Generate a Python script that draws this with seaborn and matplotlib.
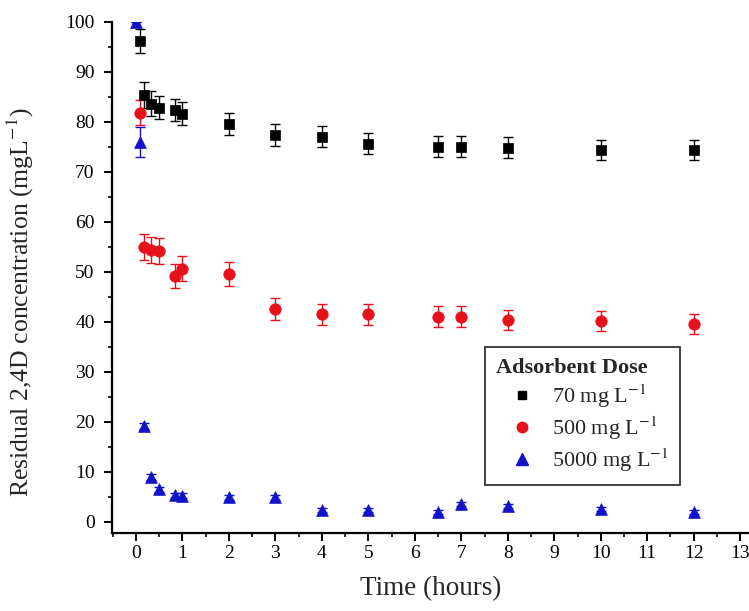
import numpy as np
import pandas as pd
import matplotlib
matplotlib.use("Agg")
import matplotlib.pyplot as plt
from matplotlib.ticker import MultipleLocator
from matplotlib.lines import Line2D
import seaborn as sns

# ---- data ----
t_70 = [0.083, 0.167, 0.333, 0.5, 0.833, 1, 2, 3, 4, 5, 6.5, 7, 8, 10, 12]
c_70 = [96.3, 85.4, 83.7, 82.9, 82.4, 81.7, 79.7, 77.4, 77.1, 75.7, 75.1, 75.1, 74.9, 74.4, 74.4]
e_70 = [2.4, 2.6, 2.4, 2.3, 2.3, 2.3, 2.2, 2.2, 2.1, 2.1, 2.1, 2.1, 2.1, 2.1, 2.1]

t_500 = [0.083, 0.167, 0.333, 0.5, 0.833, 1, 2, 3, 4, 5, 6.5, 7, 8, 10, 12]
c_500 = [81.9, 55.0, 54.5, 54.2, 49.2, 50.7, 49.7, 42.7, 41.6, 41.6, 41.1, 41.1, 40.4, 40.3, 39.7]
e_500 = [2.5, 2.6, 2.6, 2.6, 2.4, 2.5, 2.4, 2.2, 2.1, 2.1, 2.1, 2.1, 2.0, 2.0, 2.0]

t_5000 = [0, 0.083, 0.167, 0.333, 0.5, 0.833, 1, 2, 3, 4, 5, 6.5, 7, 8, 10, 12]
c_5000 = [100, 76.1, 19.3, 9.0, 6.6, 5.4, 5.3, 5.0, 5.0, 2.5, 2.4, 2.0, 3.7, 3.2, 2.6, 2.0]
e_5000 = [0, 3.0, 0.6, 0.6, 0.5, 0.5, 0.5, 0.5, 0.5, 0.4, 0.4, 0.4, 0.4, 0.4, 0.4, 0.4]

doses = ["70 mg L$^{-1}$", "500 mg L$^{-1}$", "5000 mg L$^{-1}$"]
colors = ["#000000", "#e8101a", "#1212c8"]
markers = ["s", "o", "^"]
sizes = [45, 68, 72]

frames = []
for d, t, c, e in zip(doses, [t_70, t_500, t_5000], [c_70, c_500, c_5000], [e_70, e_500, e_5000]):
    frames.append(pd.DataFrame({"Time": t, "Conc": c, "Err": e, "Dose": d}))
df = pd.concat(frames, ignore_index=True)

# ---- style ----
sns.set_style("ticks")
plt.rcParams["font.family"] = ["Liberation Serif", "DejaVu Serif"]
plt.rcParams["mathtext.fontset"] = "stix"

fig = plt.figure(figsize=(7.49, 6.11), dpi=100)
ax = fig.add_axes([112 / 749, (611 - 533) / 611, (749 - 112) / 749, (533 - 22) / 611])

for d, col, mk, sz in zip(doses, colors, markers, sizes):
    sub = df[df["Dose"] == d]
    ax.errorbar(sub["Time"], sub["Conc"], yerr=sub["Err"], fmt="none",
                ecolor=col, elinewidth=1.0, capsize=3.8, capthick=1.0, zorder=2)
    sns.scatterplot(data=sub, x="Time", y="Conc", marker=mk, color=col, s=sz,
                    edgecolor=col, linewidth=0.5, ax=ax, zorder=3, legend=False)

ax.set_xlim(-0.516, 13.19)
ax.set_ylim(-2.2, 100)
ax.xaxis.set_major_locator(MultipleLocator(1))
ax.xaxis.set_minor_locator(MultipleLocator(0.5))
ax.yaxis.set_major_locator(MultipleLocator(10))
ax.yaxis.set_minor_locator(MultipleLocator(5))
ax.tick_params(axis="both", which="major", direction="out", length=5.5, width=1.4,
               labelsize=14, colors="black")
ax.tick_params(axis="y", which="major", pad=7)
ax.tick_params(axis="x", which="major", pad=3)
ax.tick_params(axis="both", which="minor", direction="out", length=3, width=1.4)
for s in ["top", "right"]:
    ax.spines[s].set_visible(False)
for s in ["left", "bottom"]:
    ax.spines[s].set_linewidth(1.6)
    ax.spines[s].set_color("black")

ax.set_xlabel("Time (hours)", fontsize=19.5, labelpad=10)
ax.set_ylabel("Residual 2,4D concentration (mgL$^{-1}$)", fontsize=18.5)
ax.yaxis.set_label_coords((36 - 112) / 637, (533 - 302) / 511)

handles = [Line2D([], [], linestyle="none", marker=m, color=c, markersize=ms)
           for m, c, ms in zip(markers, colors, [6, 7.5, 8])]
leg = ax.legend(handles, doses, title="Adsorbent Dose", loc="upper left",
                bbox_to_anchor=((485 - 112) / 637, (533 - 347) / 511),
                fontsize=16, title_fontproperties={"weight": "bold", "size": 16},
                frameon=True, fancybox=False, edgecolor="#333333", framealpha=1,
                borderpad=0.5, borderaxespad=0, handletextpad=0.2,
                labelspacing=0.2, handlelength=2.3)
leg._legend_box.align = "left"
leg.get_frame().set_linewidth(1.3)

fig.savefig("out.png", dpi=100)
